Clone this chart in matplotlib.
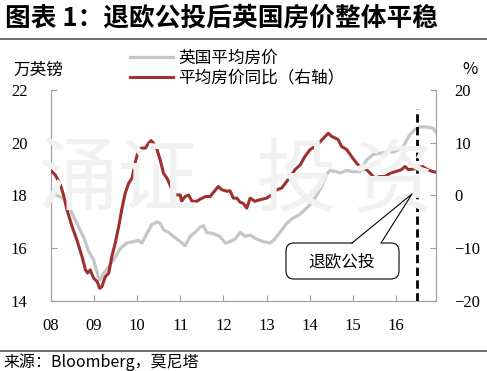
import numpy as np
import matplotlib
matplotlib.use('Agg')
import matplotlib.pyplot as plt
from matplotlib.patches import FancyBboxPatch, Polygon
from matplotlib.lines import Line2D
from matplotlib.transforms import IdentityTransform

plt.rcParams['font.family'] = ['Noto Sans CJK SC', 'DejaVu Sans']

# 英国平均房价 (万英镑)
price_t = [2008.00, 2008.14, 2008.29, 2008.45, 2008.60, 2008.76, 2008.87, 2008.99, 2009.10, 2009.14,
           2009.22, 2009.34, 2009.45, 2009.61, 2009.76, 2009.92, 2010.03, 2010.11, 2010.22, 2010.34,
           2010.46, 2010.53, 2010.61, 2010.73, 2010.84, 2011.00, 2011.11, 2011.23, 2011.34, 2011.46,
           2011.54, 2011.61, 2011.77, 2011.92, 2012.04, 2012.15, 2012.27, 2012.39, 2012.50, 2012.62,
           2012.77, 2012.93, 2013.08, 2013.16, 2013.31, 2013.47, 2013.62, 2013.74, 2013.85, 2014.01,
           2014.16, 2014.28, 2014.39, 2014.47, 2014.63, 2014.70, 2014.86, 2015.01, 2015.17, 2015.32,
           2015.47, 2015.63, 2015.78, 2015.94, 2016.09, 2016.17, 2016.25, 2016.32, 2016.44, 2016.56,
           2016.71, 2016.86, 2016.93]
price = [18.1, 18.0, 17.9, 17.45, 16.95, 16.4, 15.9, 15.55, 14.9, 14.8,
         15.05, 15.3, 15.55, 16.0, 16.2, 16.25, 16.3, 16.2, 16.55, 16.9,
         17.0, 16.95, 16.7, 16.6, 16.45, 16.25, 16.1, 16.45, 16.6, 16.8,
         16.85, 16.6, 16.55, 16.45, 16.2, 16.25, 16.35, 16.6, 16.45, 16.5,
         16.35, 16.25, 16.2, 16.3, 16.6, 16.95, 17.15, 17.25, 17.4, 17.65,
         18.0, 18.35, 18.8, 18.95, 18.9, 18.85, 18.95, 18.9, 18.9, 19.35,
         19.55, 19.6, 19.65, 19.65, 19.75, 19.85, 20.1, 20.3, 20.5, 20.6,
         20.6, 20.55, 20.4]

# 平均房价同比 (%), right axis
yoy_t = [2008.00, 2008.10, 2008.22, 2008.29, 2008.37, 2008.49, 2008.60, 2008.72, 2008.80, 2008.85,
         2008.91, 2008.99, 2009.07, 2009.13, 2009.18, 2009.26, 2009.34, 2009.41, 2009.49, 2009.57,
         2009.64, 2009.72, 2009.80, 2009.88, 2009.95, 2010.03, 2010.11, 2010.19, 2010.26, 2010.32,
         2010.38, 2010.46, 2010.53, 2010.61, 2010.69, 2010.76, 2010.84, 2010.92, 2011.00, 2011.03,
         2011.11, 2011.19, 2011.27, 2011.38, 2011.46, 2011.58, 2011.69, 2011.77, 2011.88, 2011.96,
         2012.08, 2012.15, 2012.23, 2012.31, 2012.39, 2012.46, 2012.54, 2012.62, 2012.73, 2012.85,
         2013.00, 2013.12, 2013.24, 2013.35, 2013.47, 2013.58, 2013.66, 2013.78, 2013.89, 2014.01,
         2014.12, 2014.24, 2014.36, 2014.43, 2014.51, 2014.59, 2014.66, 2014.74, 2014.86, 2014.97,
         2015.09, 2015.20, 2015.32, 2015.44, 2015.51, 2015.63, 2015.75, 2015.86, 2016.02, 2016.13,
         2016.21, 2016.29, 2016.40, 2016.52, 2016.62, 2016.71, 2016.83, 2016.93]
yoy = [4.7, 3.9, 2.0, 0.1, -2.7, -5.9, -8.4, -11.6, -14.1, -14.7,
       -14.1, -15.7, -16.3, -17.6, -17.3, -15.4, -14.7, -11.6, -9.0, -5.9,
       -2.7, 0.4, 2.3, 3.3, 6.1, 8.7, 9.0, 9.0, 9.9, 10.4,
       9.9, 8.7, 6.8, 4.2, 3.3, 2.0, 0.4, 0.1, 0.1, -1.1,
       -0.2, 0.1, -1.1, -1.1, -0.7, -0.2, -0.2, 0.6, 1.7, 1.1,
       0.8, 0.9, -0.5, -0.5, -1.3, -1.5, -2.4, -0.5, -1.1, -0.8,
       -0.5, 0.1, 1.1, 1.4, 2.7, 3.9, 4.9, 5.8, 7.4, 8.7,
       9.3, 10.2, 11.2, 11.8, 11.2, 10.9, 10.6, 9.3, 8.7, 7.4,
       6.1, 5.2, 4.9, 3.9, 3.3, 3.6, 3.6, 4.2, 4.6, 4.9,
       5.5, 4.9, 5.0, 5.2, 5.5, 5.0, 4.6, 4.4]

years = list(range(2008, 2017))
year_labels = ['08', '09', '10', '11', '12', '13', '14', '15', '16']
brexit = 2016.48

gray = '#C6C6C6'
red = '#9E3030'
spine_c = '#A0A0A0'

fig = plt.figure(figsize=(4.87, 3.71), dpi=100)
ax = fig.add_axes([0.1047, 0.1887, 0.7906, 0.5687])
ax2 = ax.twinx()

# watermark
for ch, px in zip('涌证投资', [78, 158, 295, 392]):
    fig.text(px / 487, 1 - 182 / 371, ch, fontsize=58, color='#F1F1F1',
             ha='center', va='center', zorder=0)

ax.plot(price_t, price, color=gray, lw=2.3, zorder=3)
ax2.plot(yoy_t, yoy, color=red, lw=2.2, zorder=3)
ax2.plot([brexit, brexit], [-20, 16.4], color='black', lw=2, ls=(0, (3, 1.6)), zorder=4)

ax.set_xlim(2008, 2016.93)
ax.set_ylim(14, 22)
ax.set_yticks([14, 16, 18, 20, 22])
ax2.set_ylim(-20, 20)
ax2.set_yticks([-20, -10, 0, 10, 20])
ax.set_xticks(years)
ax.set_xticklabels(year_labels)

for a in (ax, ax2):
    a.spines['top'].set_visible(False)
    for s in ('left', 'right', 'bottom'):
        a.spines[s].set_color(spine_c)
    a.patch.set_visible(False)
ax.tick_params(axis='both', direction='in', length=4, color=spine_c, labelsize=12)
ax.tick_params(axis='y', pad=17)
ax.tick_params(axis='x', pad=12)
ax2.tick_params(axis='y', direction='in', length=4, color=spine_c, labelsize=12, pad=13)
for lab in ax.get_xticklabels() + ax.get_yticklabels() + ax2.get_yticklabels():
    lab.set_fontfamily('Liberation Serif')

# callout box
tr = IdentityTransform()
box = FancyBboxPatch((286, 92), 113, 36, boxstyle='round,pad=0,rounding_size=8',
                     transform=tr, fc='white', ec='black', lw=0.8, zorder=5)
fig.add_artist(box)
fig.add_artist(Polygon([(352, 127), (412, 177), (381, 127)], closed=True, transform=tr,
                       fc='white', ec='none', zorder=6))
fig.add_artist(Line2D([352, 412, 381], [128, 177, 128], transform=tr, color='black', lw=0.8, zorder=7))
fig.text(342 / 487, 1 - 262 / 371, '退欧公投', fontsize=12, ha='center', va='center', zorder=8)

# legend
handles = [Line2D([], [], color=gray, lw=2.3), Line2D([], [], color=red, lw=2.2)]
fig.legend(handles, ['英国平均房价', '平均房价同比（右轴）'], loc='upper left',
           bbox_to_anchor=(130 / 487, 1 - 50 / 371), frameon=False, fontsize=12,
           handlelength=2.6, handletextpad=0.3, labelspacing=0.15, borderpad=0, borderaxespad=0)

fig.text(38 / 487, 1 - 70 / 371, '万英镑', fontsize=12, ha='center', va='center')
fig.text(470 / 487, 1 - 70 / 371, '%', fontsize=12, ha='center', va='center')

fig.text(5 / 487, 1 - 18 / 371, '图表 1：退欧公投后英国房价整体平稳', fontsize=18.5,
         fontweight='bold', va='center')
fig.add_artist(Line2D([0, 1], [1 - 39 / 371] * 2, transform=fig.transFigure, color='#555555', lw=1.2))
fig.add_artist(Line2D([0, 1], [1 - 351 / 371] * 2, transform=fig.transFigure, color='#555555', lw=1.2))
fig.text(3 / 487, 1 - 362 / 371, '来源：Bloomberg，莫尼塔', fontsize=11.5, va='center')

fig.savefig('out.png', dpi=100)
